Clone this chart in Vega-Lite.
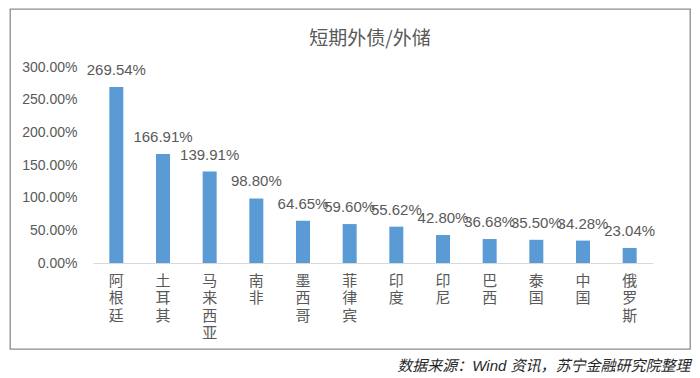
{
  "$schema": "https://vega.github.io/schema/vega-lite/v6.json",
  "width": 680,
  "height": 340,
  "padding": {"left": 10, "top": 9, "right": 10, "bottom": 5},
  "background": "white",
  "config": {
    "view": {"stroke": "#8c8c8c", "strokeWidth": 1.3},
    "font": "Liberation Sans, Noto Sans CJK SC"
  },
  "title": {
    "text": "短期外债/外储",
    "anchor": "middle",
    "frame": "group",
    "offset": -40,
    "dx": 20,
    "fontSize": 19,
    "font": "Noto Sans CJK SC",
    "fontWeight": "normal",
    "color": "#595959"
  },
  "data": {
    "values": [
      {"country": "阿根廷", "ratio": 2.6954},
      {"country": "土耳其", "ratio": 1.6691},
      {"country": "马来西亚", "ratio": 1.3991},
      {"country": "南非", "ratio": 0.9880},
      {"country": "墨西哥", "ratio": 0.6465},
      {"country": "菲律宾", "ratio": 0.5960},
      {"country": "印度", "ratio": 0.5562},
      {"country": "印尼", "ratio": 0.4280},
      {"country": "巴西", "ratio": 0.3668},
      {"country": "泰国", "ratio": 0.3550},
      {"country": "中国", "ratio": 0.3428},
      {"country": "俄罗斯", "ratio": 0.2304}
    ]
  },
  "encoding": {
    "x": {
      "field": "country",
      "type": "nominal",
      "sort": null,
      "scale": {"range": [83, 643], "paddingInner": 0.7, "paddingOuter": 0.35},
      "axis": {
        "title": "数据来源：Wind 资讯，苏宁金融研究院整理",
        "titleFont": "Liberation Sans, Noto Sans CJK SC",
        "titleFontStyle": "italic",
        "titleFontSize": 15,
        "titleFontWeight": "normal",
        "titleColor": "#262626",
        "titleX": 680,
        "titleY": 102,
        "titleAlign": "right",
        "titleBaseline": "middle",
        "offset": -86,
        "domainColor": "#D9D9D9",
        "domainWidth": 1,
        "ticks": false,
        "grid": false,
        "labelAngle": 0,
        "labelExpr": "split(datum.label, '')",
        "labelFont": "Noto Sans CJK SC",
        "labelFontSize": 15,
        "labelColor": "#595959",
        "labelLineHeight": 17.5,
        "labelPadding": 10,
        "labelBaseline": "top"
      }
    },
    "y": {
      "field": "ratio",
      "type": "quantitative",
      "scale": {"domain": [0, 3], "range": [254, 58], "nice": false},
      "axis": {
        "title": null,
        "values": [0, 0.5, 1, 1.5, 2, 2.5, 3],
        "format": ".2%",
        "offset": -83,
        "domain": false,
        "ticks": false,
        "grid": false,
        "labelPadding": 16,
        "labelFont": "Liberation Sans",
        "labelFontSize": 14,
        "labelColor": "#595959"
      }
    }
  },
  "layer": [
    {"mark": {"type": "bar", "color": "#5B9BD5"}},
    {
      "mark": {"type": "text", "dy": -17, "fontSize": 15, "font": "Liberation Sans", "color": "#595959", "baseline": "middle"},
      "encoding": {"text": {"field": "ratio", "type": "quantitative", "format": ".2%"}}
    }
  ]
}
